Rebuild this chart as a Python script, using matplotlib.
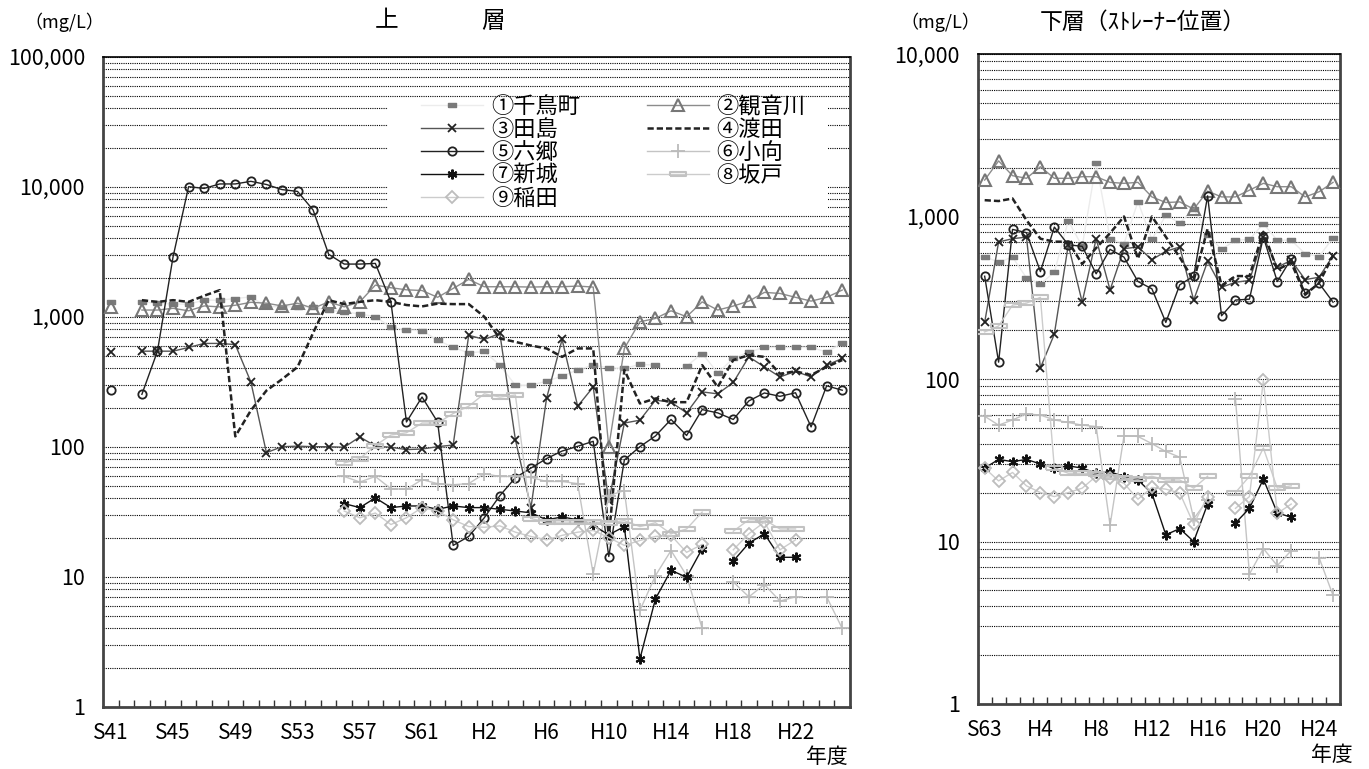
import numpy as np
import matplotlib.pyplot as plt
from matplotlib.patches import Rectangle
from matplotlib.ticker import LogLocator, NullFormatter, FuncFormatter

plt.rcParams['font.family'] = ['Noto Sans CJK JP', 'DejaVu Sans']

N = np.nan

# --- data: upper layer, one value per fiscal year S41 (1966) .. H25 (2013) ---
upper_labels = ['S41', 'S45', 'S49', 'S53', 'S57', 'S61', 'H2', 'H6', 'H10', 'H14', 'H18', 'H22']
up_1 = [1300, N, 1300, 1270, 1250, 1250, 1340, 1340, 1380, 1420,
        1200, 1190, 1190, 1190, 1120, 1090, 1050, 1000, 830, 790,
        780, 660, 580, 527, 540, 424, 297, 297, 319, 349,
        390, 424, 404, 400, 430, 424, N, 416, 521, 370,
        477, 536, 580, 580, 580, 580, 536, 623]
up_2 = [1190, N, 1125, 1125, 1160, 1110, 1210, 1190, 1225, 1290,
        1270, 1210, 1270, 1160, 1300, 1190, 1300, 1750, 1670, 1610,
        1590, 1410, 1650, 1935, 1700, 1700, 1700, 1690, 1700, 1700,
        1720, 1690, 100, 570, 914, 970, 1110, 1000, 1300, 1125,
        1207, 1318, 1538, 1510, 1409, 1318, 1409, 1603]
up_3 = [536, N, 543, 543, 543, 580, 623, 623, 610, 315,
        90, 100, 101, 100, 100, 99, 119, 101, 99, 95,
        96, 100, 103, 720, 668, 743, 113, 34, 235, 668,
        205, 288, 38, 152, 160, 228, 220, 182, 264, 255,
        312, 491, 411, 344, 380, 344, 424, 477]
up_4 = [N, N, 1340, 1300, 1340, 1300, 1450, 1600, 120, 190,
        270, 330, 410, 750, 1340, 1250, 1300, 1340, 1300, 1230,
        1200, 1260, 1250, 1250, 1000, 680, 640, 600, 570, 491,
        570, 570, 20, 390, 215, 235, 220, 220, 424, 288,
        464, 506, 491, 364, 380, 356, 411, 464]
up_5 = [272, N, 253, 543, 2880, 10000, 9700, 10500, 10500, 11000,
        10400, 9500, 9200, 6620, 3020, 2540, 2540, 2570, 1300, 155,
        241, 155, 17.4, 20.4, 28.4, 42, 57.8, 68.5, 81, 92.6,
        100.7, 110, 14.3, 79, 100, 121, 162, 122, 193, 182,
        162, 225, 259, 244, 260, 142, 294, 272]
up_6 = [N, N, N, N, N, N, N, N, N, N,
        N, N, N, N, N, 59, 53.5, 59, 47.5, 47,
        55.8, 52, 51, 52, 62, 59, 59, 58, 54, 54,
        52, 10.5, 42, 46, 5.5, 10.2, 15.9, 10.2, 4.0, N,
        9.1, 7.0, 8.7, 6.5, 7.0, N, 7.0, 4.0]
up_7 = [N, N, N, N, N, N, N, N, N, N,
        N, N, N, N, N, 36.5, 34, 40.4, 34, 35,
        35, 33, 35, 34, 34, 33, 32, 31, 27.4, 28.8,
        27.4, 24.8, 21, 24.3, 2.33, 6.76, 11.2, 9.9, 16.4, N,
        13.2, 18.1, 21.4, 14.1, 14.1, N, N, N]
up_8 = [N, N, N, N, N, N, N, N, N, N,
        N, N, N, N, N, 75, 81, 102, 123, 128,
        152, 152, 180, 205, 255, 241, 250, 28, 26.3, 26.3,
        26.3, 26.3, 26, 27, 24.3, 26, 21.4, 23.3, 31.4, N,
        22.4, 27.4, 27.4, 23.3, 23.3, N, N, N]
up_9 = [N, N, N, N, N, N, N, N, N, N,
        N, N, N, N, N, 32, 28.4, 30.9, 25.2, 28.4,
        34, 32, 27.4, 24.3, 24, 24.6, 22, 20.4, 19.2, 20.8,
        22, 22.7, 20, 17.4, 19, 20.4, 20.8, 15.4, 17.7, N,
        16.1, 21.4, 26.3, 16.1, 19.2, N, N, N]

# --- data: lower layer (strainer position), S63 (1988) .. H25 (2013) ---
lower_labels = ['S63', 'H4', 'H8', 'H12', 'H16', 'H20', 'H24']
lo_1 = [567, 524, 562, 419, 385, 454, 940, 655, 2124, 731, 681, 1233, 722,
        1019, 913, 1119, 774, 628, 714, 722, 903, 714, 714, 590, 567, 740]
lo_2 = [1675, 2198, 1783, 1718, 2024, 1718, 1718, 1758, 1758, 1622, 1600, 1622, 1320,
        1219, 1230, 1110, 1432, 1320, 1320, 1452, 1600, 1525, 1525, 1320, 1420, 1622]
lo_3 = [223, 697, 730, 747, 117, 189, 670, 297, 730, 353, 634, 649, 542,
        611, 649, 306, 529, 367, 394, 404, 747, 488, 537, 409, 423, 575]
lo_4 = [1260, 1245, 1290, 950, 730, 700, 700, 510, 640, 790, 1000, 550, 1000,
        750, 560, 404, 840, 376, 430, 430, 805, 470, 520, 330, 390, 575]
lo_5 = [429, 127, 833, 795, 458, 861, 670, 655, 444, 628, 562, 398, 359,
        223, 380, 429, 1340, 245, 306, 310, 747, 398, 550, 337, 388, 297]
lo_6 = [59, 52, 56, 61, 60, 56, 54, 52, 51, 12.6, 44.8, 44.3, 40,
        35.8, 33, 13.8, 18, N, 75.5, 6.3, 9.05, 7.1, 8.8, N, 7.95, 4.66]
lo_7 = [28.3, 32, 31, 32, 30, 28.3, 29.2, 28.3, 26.3, 26.9, 25, 23.9, 19.8,
        11, 12, 10, 17, N, 13, 16, 24.2, 15, 14.1, N, N, N]
lo_8 = [195, 212, 285, 293, 318, 28.3, 26.3, 26.3, 26, 25, 24.6, 24.2, 25.2,
        23.9, 23.9, 21.3, 25.2, N, 20, 25.2, 37.6, 21.3, 22, N, N, N]
lo_9 = [28.3, 23.6, 26.6, 22, 20, 18.9, 20, 21.3, 25.2, 24.6, 22.8, 18.2, 21.5,
        21, 19.9, 12.8, 18.9, N, 16, 18.9, 98, 14.9, 17, N, N, N]

names = ['①千鳥町', '②観音川', '③田島', '④渡田', '⑤六郷', '⑥小向', '⑦新城', '⑧坂戸', '⑨稲田']

# marker shapes
bar_small = [(-1, -0.5), (1, -0.5), (1, 0.5), (-1, 0.5), (-1, -0.5)]
bar_wide = [(-1, -0.32), (1, -0.32), (1, 0.32), (-1, 0.32), (-1, -0.32)]

styles = [
    dict(color='#ececec', lw=1, marker=bar_small, ms=6, mfc='#7a7a7a', mec='#7a7a7a'),
    dict(color='#8c8c8c', lw=1, marker='^', ms=8, mfc='none', mec='#777777', mew=1.5),
    dict(color='#555555', lw=1, marker='x', ms=6, mec='#222222', mew=1.3),
    dict(color='#222222', lw=1.8, ls=(0, (2.5, 1.2))),
    dict(color='#222222', lw=1, marker='o', ms=6, mfc='none', mec='#222222', mew=1.3),
    dict(color='#c4c4c4', lw=1, marker='+', ms=10, mec='#bbbbbb', mew=1.3),
    dict(color='#111111', lw=1, marker=(6, 2, 0), ms=7, mec='#111111', mew=1.5),
    dict(color='#cccccc', lw=1, marker=bar_wide, ms=11, mfc='none', mec='#c2c2c2', mew=1.5),
    dict(color='#cccccc', lw=1, marker='D', ms=6, mfc='none', mec='#bdbdbd', mew=1.3),
]


def setup(ax, labels, n, ymax):
    ax.set_yscale('log')
    ax.set_ylim(1, ymax)
    ax.set_xlim(-0.5, n - 0.5)
    ax.set_xticks(range(0, n, 4))
    ax.set_xticklabels(labels)
    ax.set_xticks(np.arange(0.5, n - 1, 1), minor=True)
    ax.tick_params(axis='x', which='major', length=0, pad=11, labelsize=15)
    ax.tick_params(axis='x', which='minor', direction='in', length=5, width=1, color='#333333')
    ax.yaxis.set_major_locator(LogLocator(base=10, numticks=10))
    ax.yaxis.set_minor_locator(LogLocator(base=10, subs=np.arange(2, 10), numticks=100))
    ax.yaxis.set_minor_formatter(NullFormatter())
    ax.yaxis.set_major_formatter(FuncFormatter(lambda v, p: f'{v:,.0f}'))
    ax.tick_params(axis='y', which='both', length=0, pad=13, labelsize=15.5)
    ax.grid(True, which='both', axis='y', color='black', linestyle=(0, (1, 1)), linewidth=0.8)
    ax.set_axisbelow(True)
    ax.spines['top'].set_linewidth(1.2)
    for s in ['left', 'bottom', 'right']:
        ax.spines[s].set_linewidth(2)
        ax.spines[s].set_color('#444444')


fig = plt.figure(figsize=(13.69, 7.69), dpi=100)
ax1 = fig.add_axes([103 / 1369, 1 - 706.7 / 769, 747 / 1369, 650 / 769])
ax2 = fig.add_axes([977.7 / 1369, 1 - 704 / 769, 362.3 / 1369, 650 / 769])

upper = [up_1, up_2, up_3, up_4, up_5, up_6, up_7, up_8, up_9]
lower = [lo_1, lo_2, lo_3, lo_4, lo_5, lo_6, lo_7, lo_8, lo_9]

handles = []
for vals, name, st in zip(upper, names, styles):
    h, = ax1.plot(np.arange(len(vals)), vals, label=name, zorder=3, **st)
    handles.append(h)
for vals, st in zip(lower, styles):
    ax2.plot(np.arange(len(vals)), vals, zorder=3, **st)

setup(ax1, upper_labels, len(up_1), 100000)
setup(ax2, lower_labels, len(lo_1), 10000)

# white box behind the legend
ax1.add_patch(Rectangle(((388 - 103) / 747, (706.7 - 213) / 650), (828 - 388) / 747, 115 / 650,
                        transform=ax1.transAxes, facecolor='white', edgecolor='none', zorder=1))
order = [0, 2, 4, 6, 8, 1, 3, 5, 7]
ax1.legend([handles[i] for i in order], [names[i] for i in order], ncol=2, frameon=False,
           loc='upper left', bbox_to_anchor=((421 - 103) / 747, (706.7 - 95) / 650),
           borderpad=0, borderaxespad=0, fontsize=16, handlelength=2.8, handletextpad=0.35,
           columnspacing=3.0, labelspacing=0.0)

fig.text(64 / 1369, 1 - 22 / 769, '（mg/L）', fontsize=13, ha='center', va='center')
fig.text(940 / 1369, 1 - 22 / 769, '（mg/L）', fontsize=13, ha='center', va='center')
fig.text(387 / 1369, 1 - 21 / 769, '上', fontsize=17, ha='center', va='center')
fig.text(493 / 1369, 1 - 21 / 769, '層', fontsize=17, ha='center', va='center')
fig.text(1143 / 1369, 1 - 22 / 769, '下層（ｽﾄﾚｰﾅｰ位置）', fontsize=16.5, ha='center', va='center')
fig.text(827 / 1369, 1 - 757 / 769, '年度', fontsize=15, ha='center', va='center')
fig.text(1332 / 1369, 1 - 755 / 769, '年度', fontsize=15, ha='center', va='center')

plt.savefig('out.png', dpi=100)
